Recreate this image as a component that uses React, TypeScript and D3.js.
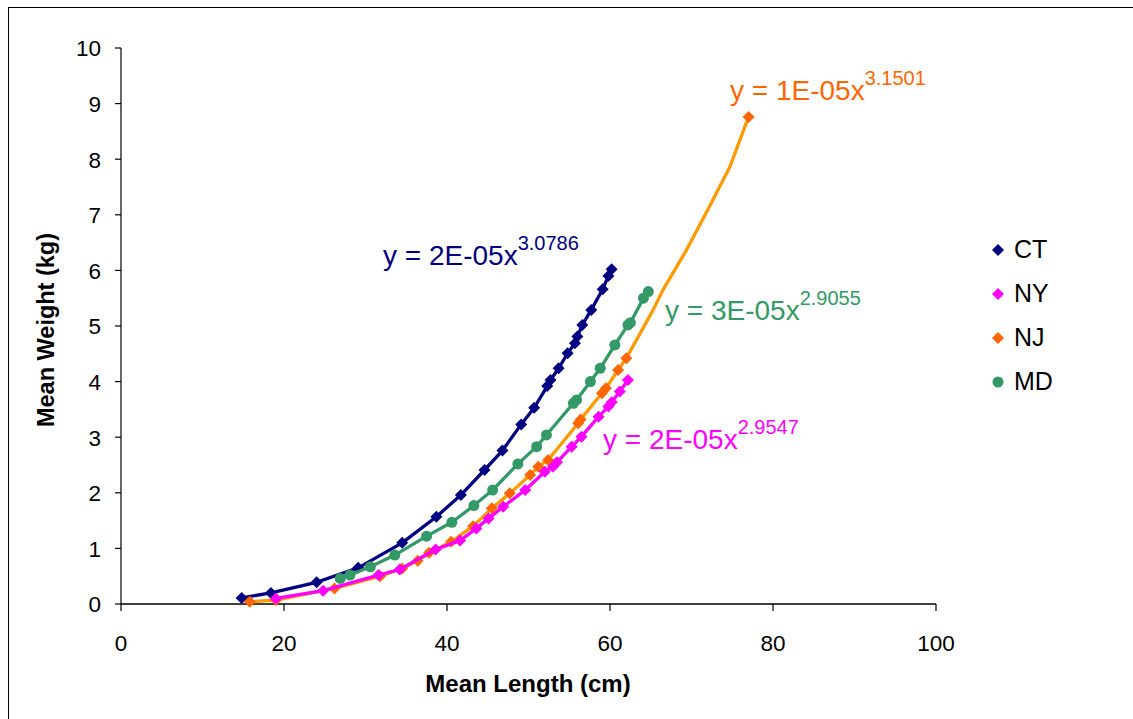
import React from "react";
import * as d3 from "d3";

type Pt = [number, number];

const ctData: Pt[] = [
  [14.8, 0.11], [18.4, 0.2], [24.0, 0.39], [29.1, 0.65], [34.5, 1.1], [38.7, 1.57],
  [41.7, 1.96], [44.6, 2.41], [46.8, 2.76], [49.1, 3.23], [50.7, 3.53], [52.3, 3.92],
  [52.7, 4.03], [53.7, 4.24], [54.8, 4.51], [55.7, 4.69], [56.0, 4.81], [56.6, 5.02],
  [57.7, 5.29], [59.1, 5.66], [59.8, 5.9], [60.2, 6.02],
];
const nyData: Pt[] = [
  [19.0, 0.1], [24.8, 0.24], [31.6, 0.52], [34.2, 0.62], [38.6, 0.98], [41.6, 1.14],
  [43.6, 1.36], [45.1, 1.54], [46.9, 1.75], [49.6, 2.05], [52.0, 2.38], [53.0, 2.47],
  [53.5, 2.55], [55.3, 2.83], [56.5, 3.01], [58.6, 3.37], [59.8, 3.55], [60.2, 3.63],
  [61.2, 3.82], [62.2, 4.03],
];
const njData: Pt[] = [
  [15.8, 0.04], [19.0, 0.07], [26.2, 0.28], [31.8, 0.5], [34.5, 0.64], [36.4, 0.78],
  [37.8, 0.92], [40.5, 1.12], [43.2, 1.4], [45.5, 1.72], [47.7, 1.99], [50.2, 2.32],
  [51.2, 2.47], [52.4, 2.59], [56.1, 3.25], [56.4, 3.32], [59.0, 3.79], [59.5, 3.88],
  [61.0, 4.21], [62.0, 4.42], [77.0, 8.76],
];
// extra points read along the NJ trend line between the last markers
const njLineExtra: Pt[] = [
  [65.3, 5.29], [66.5, 5.65], [69.4, 6.37], [72.0, 7.09], [74.7, 7.86],
];
const mdData: Pt[] = [
  [26.9, 0.46], [28.1, 0.52], [30.6, 0.67], [33.6, 0.88], [37.5, 1.22], [40.6, 1.47],
  [43.3, 1.77], [45.6, 2.05], [48.7, 2.52], [51.0, 2.83], [52.2, 3.04], [55.5, 3.61],
  [55.9, 3.67], [57.6, 4.0], [58.8, 4.24], [60.6, 4.66], [62.2, 5.02], [62.5, 5.06],
  [64.1, 5.5], [64.7, 5.62],
];

const xTicks = [0, 20, 40, 60, 80, 100];
const yTicks = [0, 1, 2, 3, 4, 5, 6, 7, 8, 9, 10];
const legendNames = ["CT", "NY", "NJ", "MD"];

const C = {
  ct: "#000080",
  ny: "#FF00FF",
  njMarker: "#FF6600",
  njLine: "#FF9900",
  md: "#339966",
};

const font = "Arial, 'Liberation Sans', Helvetica, sans-serif";

export default function App() {
  const x = d3.scaleLinear().domain([0, 100]).range([121, 936]);
  const y = d3.scaleLinear().domain([0, 10]).range([604, 48]);
  const line = d3
    .line<Pt>()
    .x((d) => x(d[0]))
    .y((d) => y(d[1]));

  const sortX = (a: Pt[]) => [...a].sort((p, q) => p[0] - q[0]);

  const diamond = (cx: number, cy: number, r: number) =>
    `M${cx},${cy - r}L${cx + r},${cy}L${cx},${cy + r}L${cx - r},${cy}Z`;

  const series = [
    { data: ctData, lineData: ctData, color: C.ct, lineColor: C.ct, shape: "d" },
    { data: mdData, lineData: mdData, color: C.md, lineColor: C.md, shape: "c" },
    { data: njData, lineData: sortX([...njData, ...njLineExtra]), color: C.njMarker, lineColor: C.njLine, shape: "d" },
    { data: nyData, lineData: nyData, color: C.ny, lineColor: C.ny, shape: "d" },
  ];

  const legend = [
    { name: legendNames[0], color: C.ct, shape: "d" },
    { name: legendNames[1], color: C.ny, shape: "d" },
    { name: legendNames[2], color: C.njMarker, shape: "d" },
    { name: legendNames[3], color: C.md, shape: "c" },
  ];

  const eqs = [
    { x: 383, y: 265, base: "y = 2E-05x", exp: "3.0786", color: C.ct },
    { x: 730, y: 100, base: "y = 1E-05x", exp: "3.1501", color: C.njMarker },
    { x: 665, y: 320, base: "y = 3E-05x", exp: "2.9055", color: C.md },
    { x: 603, y: 449, base: "y = 2E-05x", exp: "2.9547", color: C.ny },
  ];

  return (
    <svg
      width={1133}
      height={719}
      style={{ position: "absolute", left: 0, top: 0, background: "#fff" }}
      fontFamily={font}
    >
      <rect x={8.5} y={7.5} width={1140} height={730} fill="#fff" stroke="#000" strokeWidth={1} />

      {/* axes */}
      <line x1={x(0)} x2={x(100)} y1={y(0)} y2={y(0)} stroke="#000" strokeWidth={1.5} />
      <line x1={x(0)} x2={x(0)} y1={y(0)} y2={y(10)} stroke="#000" strokeWidth={1.2} />
      {yTicks.map((t) => (
        <g key={"y" + t}>
          <line x1={x(0) - 6} x2={x(0)} y1={y(t)} y2={y(t)} stroke="#000" strokeWidth={1.2} />
          <text x={101} y={y(t) + 8.3} textAnchor="end" fontSize={22.5} fill="#000">
            {t}
          </text>
        </g>
      ))}
      {xTicks.map((t) => (
        <g key={"x" + t}>
          <line x1={x(t)} x2={x(t)} y1={y(0)} y2={y(0) + 7} stroke="#000" strokeWidth={1.2} />
          <text x={x(t)} y={651} textAnchor="middle" fontSize={22.5} fill="#000">
            {t}
          </text>
        </g>
      ))}
      <text x={528} y={692} textAnchor="middle" fontSize={24} fontWeight="bold" fill="#000">
        Mean Length (cm)
      </text>
      <text
        transform="translate(54,330) rotate(-90)"
        textAnchor="middle"
        fontSize={23.5}
        fontWeight="bold"
        fill="#000"
      >
        Mean Weight (kg)
      </text>

      {/* series */}
      {series.map((s, i) => (
        <g key={"s" + i}>
          <path d={line(s.lineData) || ""} fill="none" stroke={s.lineColor} strokeWidth={3.3} strokeLinejoin="round" />
          {s.data.map((d, j) =>
            s.shape === "d" ? (
              <path key={j} d={diamond(x(d[0]), y(d[1]), 6)} fill={s.color} />
            ) : (
              <circle key={j} cx={x(d[0])} cy={y(d[1])} r={5.5} fill={s.color} />
            )
          )}
        </g>
      ))}

      {/* equations */}
      {eqs.map((e, i) => (
        <text key={"e" + i} x={e.x} y={e.y} fontSize={28} fill={e.color}>
          {e.base}
          <tspan fontSize={20} dy={-15}>
            {e.exp}
          </tspan>
        </text>
      ))}

      {/* legend */}
      {legend.map((l, i) => {
        const cy = 250 + i * 44;
        return (
          <g key={"l" + i}>
            {l.shape === "d" ? (
              <path d={diamond(998, cy, 6)} fill={l.color} />
            ) : (
              <circle cx={998} cy={cy} r={5.5} fill={l.color} />
            )}
            <text x={1014} y={cy + 7.5} fontSize={25} fill="#000">
              {l.name}
            </text>
          </g>
        );
      })}
    </svg>
  );
}
